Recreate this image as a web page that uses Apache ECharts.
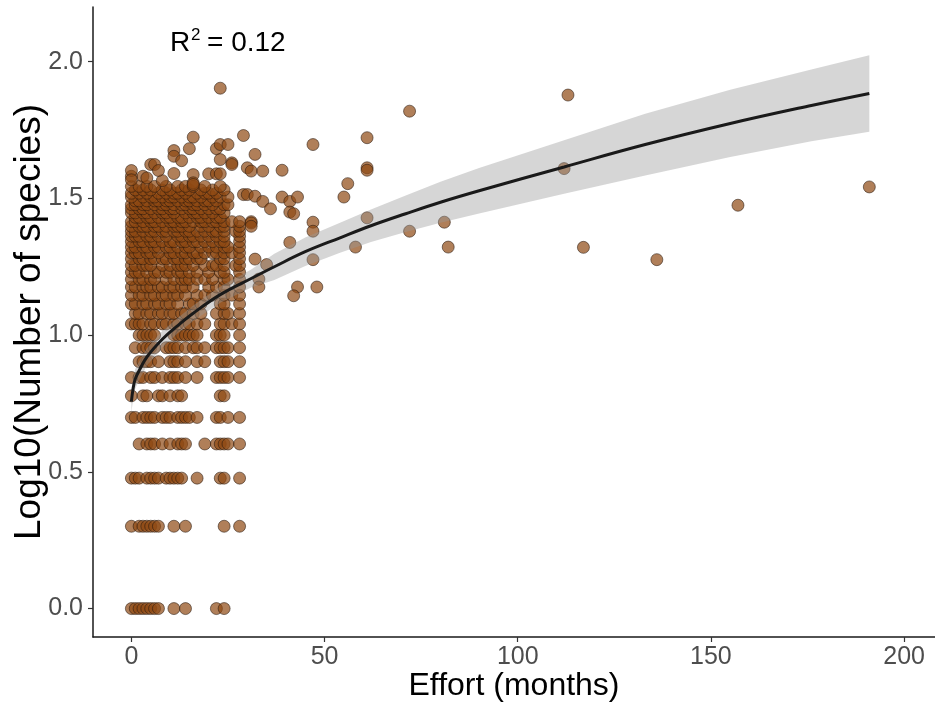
<!DOCTYPE html>
<html>
<head>
<meta charset="utf-8">
<script src="https://cdn.jsdelivr.net/npm/echarts@6/dist/echarts.min.js"></script>
<style>
html,body{margin:0;padding:0;background:#fff;}
#chart{width:935px;height:706px;}
</style>
</head>
<body>
<div id="chart"></div>
<script>
// Rows of points: log10(number of species) level and efforts (months) on that level
const rowLogSpecies = [0, 0.301, 0.477, 0.602, 0.699, 0.778, 0.845, 0.903, 0.954, 1.000,
  1.041, 1.079, 1.114, 1.146, 1.176, 1.204, 1.230, 1.255, 1.279, 1.301,
  1.322, 1.342, 1.362, 1.380, 1.398, 1.415, 1.431, 1.447, 1.462, 1.477,
  1.491, 1.505, 1.519, 1.531, 1.544];
const rowEffort = [
  [0,1,2,3,4,5,6,7,11,14,22,24],
  [0,2,3,4,5,6,7,11,14,24,28],
  [0,1,2,4,5,6,7,9,10,11,12,13,17,23,24,28],
  [2,4,5,6,8,10,12,13,14,19,22,23,24,25,28],
  [0,1,3,4,5,6,8,9,10,12,13,14,15,17,22,23,25,28],
  [0,3,4,7,8,10,12,13,23,24],
  [0,2,3,5,6,8,10,11,12,14,17,22,23,24,25,28],
  [2,3,4,5,7,10,11,12,14,17,19,23,24,25,28],
  [1,3,4,5,6,9,10,11,12,14,16,17,19,22,23,24,25,28],
  [2,3,4,5,6,11,12,13,14,15,16,17,22,23,24,28],
  [0,1,2,3,5,6,8,9,11,12,14,15,17,19,23,24,26,28],
  [1,2,4,5,7,8,10,11,13,14,16,18,22,24,25,28],
  [0,1,3,4,6,7,9,10,12,15,16,18,23,24,28],
  [0,2,3,5,6,8,9,11,12,14,17,19,21,24,26,28],
  [0,1,3,4,5,7,8,10,11,13,14,16,20,22,24,28],
  [0,2,3,5,6,9,11,13,14,15,17,19,21,24,25,28],
  [0,1,2,4,6,7,9,10,12,13,15,17,20,23,24,28],
  [0,1,3,4,5,8,10,12,13,14,16,19,21,22,24,27,28],
  [0,2,3,5,6,8,9,11,12,14,15,17,18,23,24,28],
  [0,1,2,4,5,7,10,11,13,14,16,17,19,21,22,24,26,28],
  [0,1,3,4,6,7,9,10,12,14,15,18,20,22,24,25,28],
  [0,2,3,5,6,8,10,11,13,14,16,17,19,21,23,24,28],
  [0,1,2,4,5,7,9,12,13,15,16,18,20,22,24,28],
  [0,1,3,5,6,8,9,11,12,14,15,17,19,21,22,24,27,28],
  [0,2,3,4,6,7,9,11,12,13,15,18,20,23,24,28],
  [0,1,3,5,6,8,10,11,13,14,16,18,19,21,22,24,26,28,31],
  [1,2,4,5,7,9,10,12,13,15,17,18,20,22,23],
  [0,1,3,4,6,8,9,11,14,16,17,19,21,24],
  [0,2,3,5,7,8,10,11,13,15,16,18,20,22,23],
  [0,1,3,4,6,8,9,11,13,14,16,17,19,21,24,25],
  [1,2,4,6,7,9,10,12,14,15,17,19,20,22],
  [0,3,5,6,8,10,11,13,15,16,18,21,23,25],
  [0,2,4,7,9,11,12,14,17,19,20,22],
  [1,3,5,8,10,13,15,18,21,24],
  [0,2,4,6,9,12,14,16,19,23]
];
// Scattered points outside the regular rows
const scatterEffort = [23,16,29,15,22,23,25,11,11,13, 23,26,26,5,6,32,30,31,34,39,
  47,61,61,61,72,0,3,4,11,16, 20,22,23,8,16,16,29,30,32,34,
  36,39,41,43,41,42,56,55,31,31, 47,47,61,72,81,82,58,41,32,35,
  33,33,47,43,42,48,113,112,117,136, 157,191,0,0,7];
const scatterLog = [1.903,1.724,1.730,1.682,1.682,1.697,1.697,1.675,1.654,1.638,
  1.642,1.630,1.624,1.624,1.624,1.661,1.612,1.600,1.600,1.603,
  1.697,1.722,1.612,1.603,1.819,1.581,1.581,1.575,1.591,1.587,
  1.590,1.590,1.590,1.565,1.557,1.551,1.514,1.514,1.508,1.489,
  1.462,1.505,1.489,1.505,1.450,1.444,1.554,1.505,1.410,1.398,
  1.413,1.380,1.429,1.380,1.413,1.322,1.322,1.339,1.278,1.258,
  1.205,1.176,1.276,1.176,1.144,1.176,1.878,1.609,1.321,1.276,
  1.475,1.542,1.602,1.568,1.602];
// Fitted curve and confidence band
const fitEffort = [0, 0.5, 1, 2, 4, 8, 12, 16, 23, 31, 37, 45, 54, 62, 71, 80, 90, 112, 133, 155, 176, 191];
const fitLog    = [0.757, 0.81, 0.84, 0.87, 0.92, 0.985, 1.035, 1.08, 1.148, 1.207, 1.25, 1.305, 1.356, 1.40, 1.444, 1.486, 1.528, 1.615, 1.697, 1.774, 1.84, 1.884];
const bandLower = [0.717, 0.772, 0.804, 0.836, 0.888, 0.955, 1.007, 1.052, 1.118, 1.174, 1.202, 1.253, 1.301, 1.341, 1.377, 1.411, 1.445, 1.517, 1.584, 1.651, 1.709, 1.744];
const bandUpper = [0.797, 0.848, 0.876, 0.904, 0.952, 1.015, 1.063, 1.108, 1.178, 1.24, 1.298, 1.357, 1.411, 1.459, 1.511, 1.561, 1.611, 1.713, 1.81, 1.897, 1.971, 2.024];
// Tick labels
const xTicks = [0, 50, 100, 150, 200];
const yTicks = [0, 0.5, 1.0, 1.5, 2.0];

const FONT = "'Liberation Sans', Arial, Helvetica, sans-serif";

const points = [];
rowLogSpecies.forEach((y, i) => rowEffort[i].forEach(x => points.push([x, y])));
scatterEffort.forEach((x, i) => points.push([x, scatterLog[i]]));

const chart = echarts.init(document.getElementById('chart'), null, {renderer: 'canvas'});
chart.setOption({
  animation: false,
  backgroundColor: '#ffffff',
  grid: {left: 93, right: 0, top: 7, bottom: 69, containLabel: false, outerBoundsMode: 'none'},
  xAxis: {
    type: 'value', min: -9.94, max: 208,
    name: 'Effort (months)', nameLocation: 'middle', nameGap: 33, nameMoveOverlap: false,
    nameTextStyle: {fontFamily: FONT, fontSize: 32, color: '#000'},
    axisLine: {show: true, onZero: false, lineStyle: {color: '#1a1a1a', width: 1.5}},
    axisTick: {show: true, length: 5, lineStyle: {color: '#333', width: 1.2}, customValues: xTicks},
    axisLabel: {fontFamily: FONT, fontSize: 25, color: '#4d4d4d', margin: 8, customValues: xTicks,
      formatter: v => String(v)},
    splitLine: {show: false}
  },
  yAxis: {
    type: 'value', min: -0.104, max: 2.2,
    name: 'Log10(Number of species)', nameLocation: 'middle', nameGap: 45, nameMoveOverlap: false,
    nameTextStyle: {fontFamily: FONT, fontSize: 37, color: '#000'},
    axisLine: {show: true, onZero: false, lineStyle: {color: '#1a1a1a', width: 1.5}},
    axisTick: {show: true, length: 5, lineStyle: {color: '#333', width: 1.2}, customValues: yTicks},
    axisLabel: {fontFamily: FONT, fontSize: 25, color: '#4d4d4d', margin: 10, customValues: yTicks,
      formatter: v => v.toFixed(1)},
    splitLine: {show: false}
  },
  series: [
    {
      type: 'scatter', data: points, symbol: 'circle', symbolSize: 12, z: 2,
      itemStyle: {color: '#8e4812', opacity: 0.7, borderColor: '#2a1a0e', borderWidth: 0.8},
      silent: true
    },
    {
      type: 'custom', z: 3, silent: true,
      data: [0],
      renderItem: function (params, api) {
        const upper = fitEffort.map((x, i) => api.coord([x, bandUpper[i]]));
        const lower = fitEffort.map((x, i) => api.coord([x, bandLower[i]])).reverse();
        return {
          type: 'polygon',
          shape: {points: upper.concat(lower)},
          style: {fill: 'rgba(153,153,153,0.4)', stroke: 'none'}
        };
      }
    },
    {
      type: 'line', data: fitEffort.map((x, i) => [x, fitLog[i]]),
      symbol: 'none', smooth: 0.4, lineStyle: {color: '#1a1a1a', width: 3}, z: 4, silent: true
    }
  ],
  graphic: [
    {type: 'text', x: 170, y: 43, style: {text: 'R', font: '28px ' + FONT, fill: '#000', verticalAlign: 'middle'}},
    {type: 'text', x: 191, y: 35, style: {text: '2', font: '17px ' + FONT, fill: '#000', verticalAlign: 'middle'}},
    {type: 'text', x: 207, y: 43, style: {text: '= 0.12', font: '28px ' + FONT, fill: '#000', verticalAlign: 'middle'}}
  ]
});
</script>
</body>
</html>
